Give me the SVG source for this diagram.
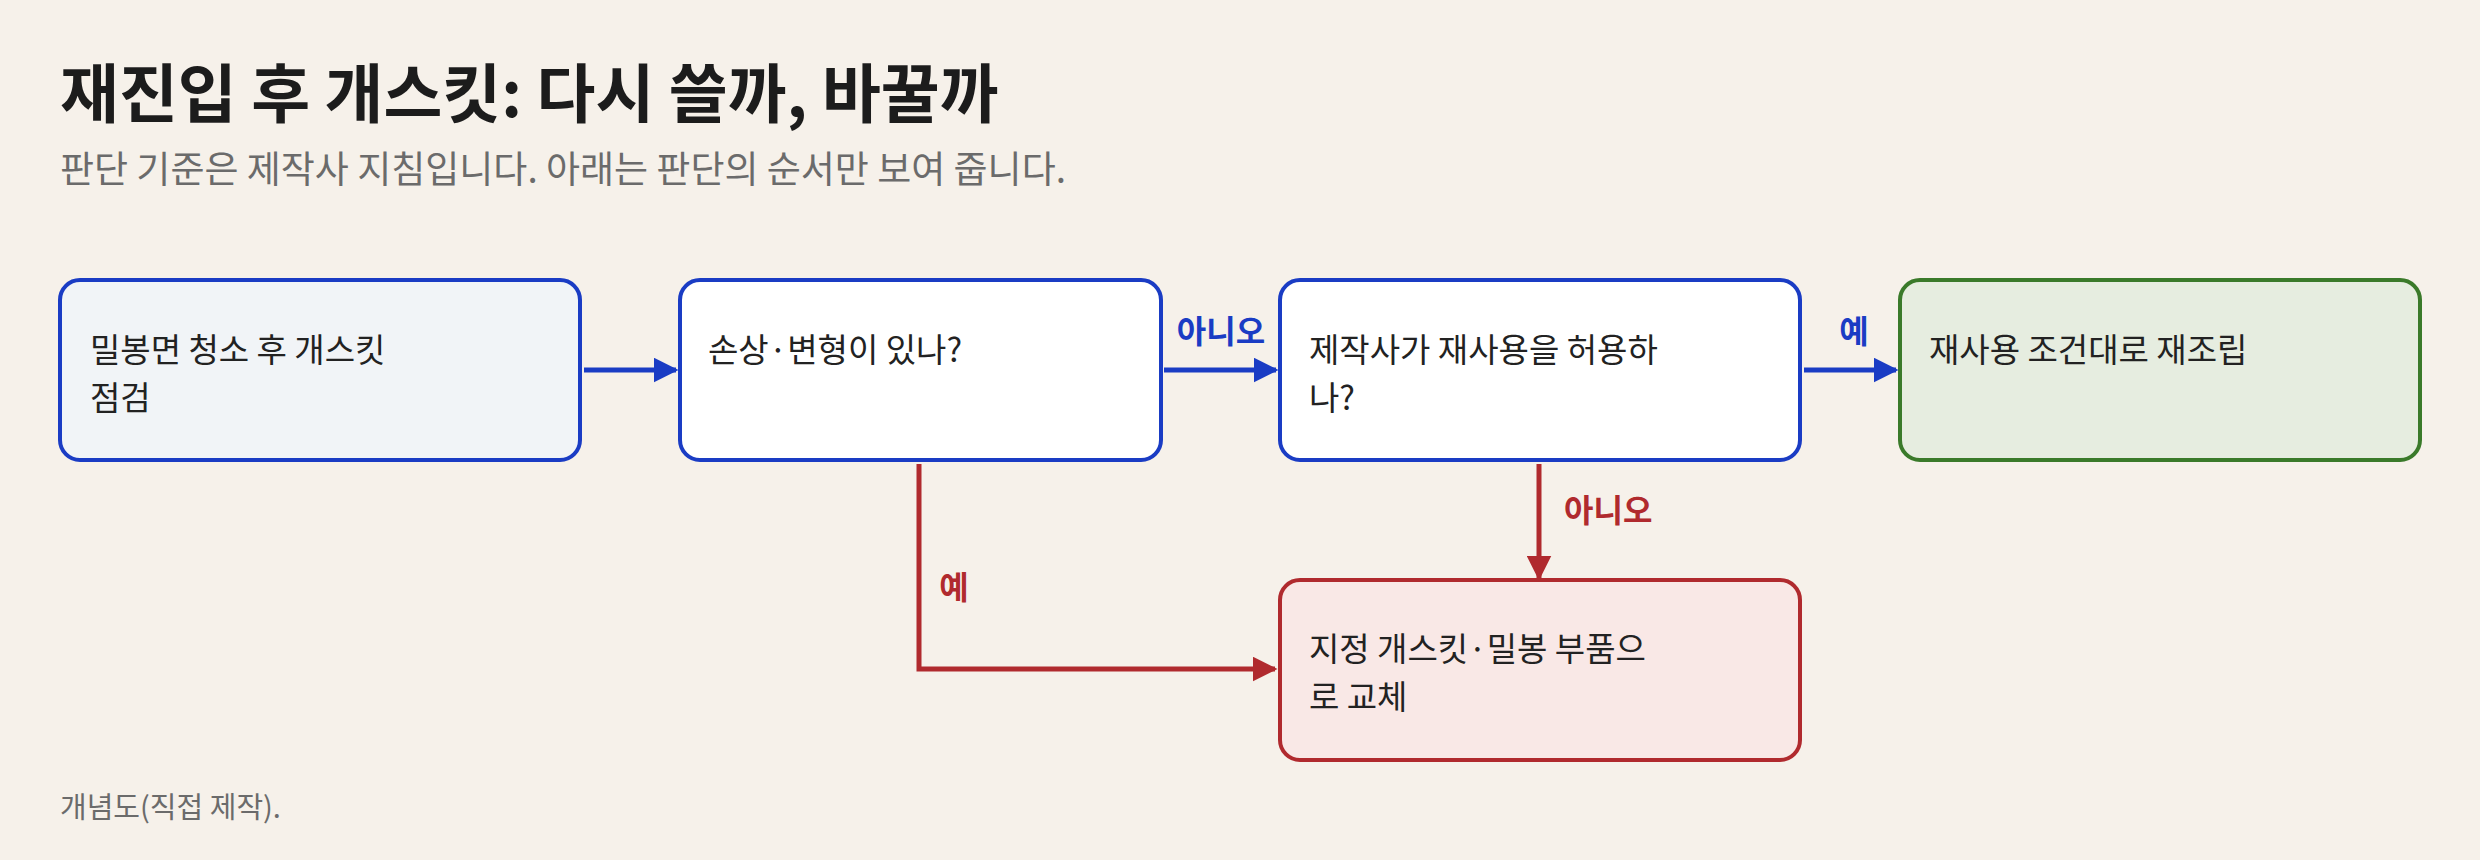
<svg xmlns="http://www.w3.org/2000/svg" width="2480" height="860" viewBox="0 0 2480 860">
<style>
text{font-family:"Noto Sans CJK KR","Noto Sans",sans-serif}
.t{font-size:64px;font-weight:700;fill:#1c1c1c}
.s{font-size:37px;fill:#6b6b6b}
.n{font-size:33px;fill:#222}
.f{font-size:29px;fill:#6b6b6b}
.box{stroke-width:4}
.b{stroke:#1a3cc4}.r{stroke:#b02a2e}.g{stroke:#3a7a2a}
.lb{font-size:32px;font-weight:700}
</style>
<defs>
<marker id="ab" viewBox="0 0 10 10" refX="9" refY="5" markerWidth="5" markerHeight="5" orient="auto"><path d="M0,0L10,5L0,10z" fill="#1a3cc4"/></marker>
<marker id="ar" viewBox="0 0 10 10" refX="9" refY="5" markerWidth="5" markerHeight="5" orient="auto"><path d="M0,0L10,5L0,10z" fill="#b02a2e"/></marker>
</defs>
<rect width="2480" height="860" fill="#f6f1ea"/>
<text class="t" x="60" y="117">재진입 후 개스킷: 다시 쓸까, 바꿀까</text>
<text class="s" x="60" y="183">판단 기준은 제작사 지침입니다. 아래는 판단의 순서만 보여 줍니다.</text>
<g id="n1"><rect class="box b" x="60" y="280" width="520" height="180" rx="20" fill="#f1f4f7"/><text class="n" x="90" y="362">밀봉면 청소 후 개스킷</text><text class="n" x="90" y="410">점검</text></g>
<g id="n2"><rect class="box b" x="680" y="280" width="481" height="180" rx="20" fill="#fff"/><text class="n" x="708" y="362">손상·변형이 있나?</text></g>
<g id="n3"><rect class="box b" x="1280" y="280" width="520" height="180" rx="20" fill="#fff"/><text class="n" x="1309" y="362">제작사가 재사용을 허용하</text><text class="n" x="1309" y="410">나?</text></g>
<g id="n4"><rect class="box g" x="1900" y="280" width="520" height="180" rx="20" fill="#e6ede0"/><text class="n" x="1929" y="362">재사용 조건대로 재조립</text></g>
<g id="n5"><rect class="box r" x="1280" y="580" width="520" height="180" rx="20" fill="#f9e8e6"/><text class="n" x="1309" y="661">지정 개스킷·밀봉 부품으</text><text class="n" x="1309" y="709">로 교체</text></g>
<g id="edges" fill="none" stroke-width="5">
<path class="b" d="M584,370H676" marker-end="url(#ab)"/>
<path class="b" d="M1164,370H1276" marker-end="url(#ab)"/>
<path class="b" d="M1804,370H1896" marker-end="url(#ab)"/>
<path class="r" d="M919,464V669H1275" marker-end="url(#ar)"/>
<path class="r" d="M1539,464V578" marker-end="url(#ar)"/>
<text class="lb" x="1221" y="343" fill="#1a3cc4" stroke="none" text-anchor="middle">아니오</text>
<text class="lb" x="1854" y="343" fill="#1a3cc4" stroke="none" text-anchor="middle">예</text>
<text class="lb" x="954" y="599" fill="#b02a2e" stroke="none" text-anchor="middle">예</text>
<text class="lb" x="1564" y="522" fill="#b02a2e" stroke="none">아니오</text>
</g>
<text class="f" x="60" y="818">개념도(직접 제작).</text>
</svg>
